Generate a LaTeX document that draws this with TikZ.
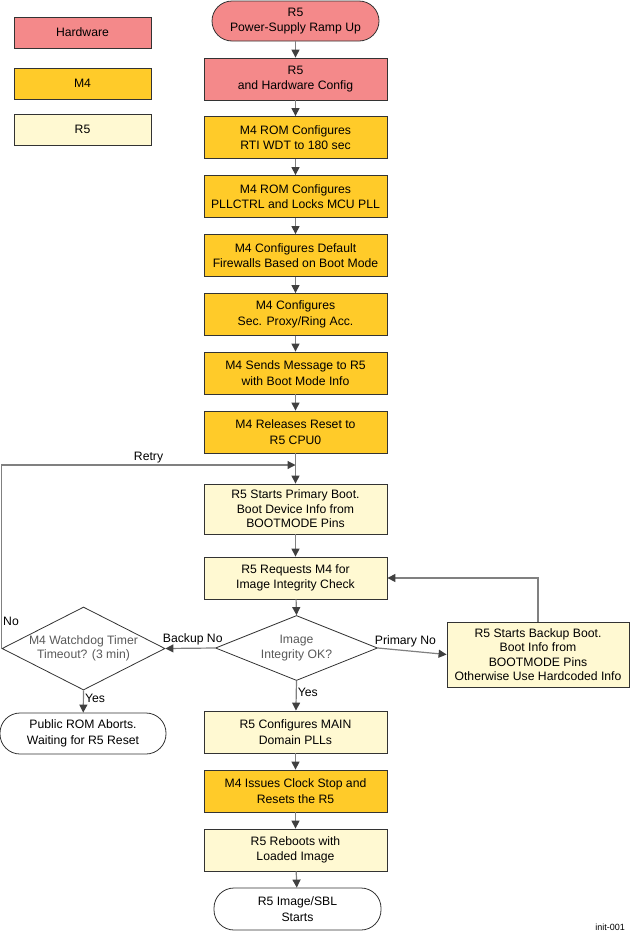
\documentclass[tikz,border=0pt]{standalone}
\usepackage{fontspec}
\setmainfont{Liberation Sans}
\usetikzlibrary{shapes.geometric,arrows.meta}
\definecolor{hw}{HTML}{F4898A}
\definecolor{mf}{HTML}{FFCB29}
\definecolor{rf}{HTML}{FFF9D2}
\definecolor{ln}{HTML}{808080}
\definecolor{tipc}{HTML}{404040}
\definecolor{bd}{HTML}{333333}
\begin{document}
\begin{tikzpicture}[x=1pt,y=-1pt,font=\fontsize{12.2}{15.5}\selectfont,
  box/.style={draw=bd,line width=0.8pt,minimum width=183pt,minimum height=42pt,align=center,inner sep=1pt},
  hwb/.style={box,fill=hw},
  m4b/.style={box,fill=mf},
  r5b/.style={box,fill=rf},
  legbox/.style={draw=bd,line width=0.8pt,minimum width=137pt,minimum height=31pt,inner sep=1pt},
  term/.style={draw=bd,line width=0.8pt,rounded corners=20pt,minimum width=167pt,minimum height=41pt,align=center,inner sep=1pt},
  dia/.style={draw=bd,line width=0.8pt,diamond,inner sep=0pt,align=center,text=black!65},
  arr/.style={draw=ln,line width=1.2pt,-{Triangle[length=8pt,width=8pt,color=tipc]}},
  lbl/.style={inner sep=1pt}
]
\useasboundingbox (0,0) rectangle (630,932);

% legend
\node[legbox,fill=hw] (lhw) at (82.5,32.5) {Hardware};
\node[legbox,fill=mf] (lm4) at (82.5,83.5) {M4};
\node[legbox,fill=rf] (lr5) at (82.5,129.5) {R5};

% main column
\node[term,fill=hw,minimum height=40pt] (t1) at (295.5,21) {R5\\Power-Supply Ramp Up};
\node[hwb] (b2) at (295.5,79) {R5\\and Hardware Config};
\node[m4b] (b3) at (295.5,137.5) {M4 ROM Configures\\RTI WDT to 180 sec};
\node[m4b] (b4) at (295.5,196.5) {M4 ROM Configures\\PLLCTRL and Locks MCU PLL};
\node[m4b] (b5) at (295.5,255.5) {M4 Configures Default\\Firewalls Based on Boot Mode};
\node[m4b] (b6) at (295.5,314.5) {M4 Configures\\Sec. Proxy/Ring Acc.};
\node[m4b] (b7) at (295.5,373) {M4 Sends Message to R5\\with Boot Mode Info};
\node[m4b] (b8) at (295.5,432) {M4 Releases Reset to\\R5 CPU0};
\coordinate (merge) at (295.5,465);
\node[r5b,minimum height=50pt,font=\fontsize{12.2}{14.5}\selectfont] (b9) at (295.5,509) {R5 Starts Primary Boot.\\Boot Device Info from\\BOOTMODE Pins};
\node[r5b] (b10) at (295.5,578) {R5 Requests M4 for\\Image Integrity Check};
\node[dia,aspect=2.6,minimum width=162pt,minimum height=65pt] (d1) at (296.5,648) {Image\\Integrity OK?};
\node[dia,aspect=2,minimum width=163pt,minimum height=83pt,font=\fontsize{12.2}{14.5}\selectfont] (d2) at (83.5,648.5) {M4 Watchdog Timer\\Timeout? (3 min)};
\node[r5b,minimum width=182pt,minimum height=65pt,font=\fontsize{12.2}{14.5}\selectfont] (bk) at (538,654.5) {R5 Starts Backup Boot.\\Boot Info from\\BOOTMODE Pins\\Otherwise Use Hardcoded Info};
\node[term,minimum width=166pt] (pr) at (83,733.5) {Public ROM Aborts.\\Waiting for R5 Reset};
\node[r5b] (b11) at (295.5,732) {R5 Configures MAIN\\Domain PLLs};
\node[m4b] (b12) at (295.5,791) {M4 Issues Clock Stop and\\Resets the R5};
\node[r5b] (b13) at (295.5,850) {R5 Reboots with\\Loaded Image};
\node[term,minimum height=42pt] (t2) at (297.5,909) {R5 Image/SBL\\Starts};

\node[lbl,font=\fontsize{9}{10}\selectfont,anchor=east] (tag) at (626,927) {init-001};

% connectors
\draw[arr] (t1) -- (b2);
\draw[arr] (b2) -- (b3);
\draw[arr] (b3) -- (b4);
\draw[arr] (b4) -- (b5);
\draw[arr] (b5) -- (b6);
\draw[arr] (b6) -- (b7);
\draw[arr] (b7) -- (b8);
\draw[arr] (b8) -- (b9);
\draw[arr] (b9) -- (b10);
\draw[arr] (b10) -- (d1.north);
\draw[arr] (d1.west) -- node[lbl,above=2pt,pos=0.45,text=black] {Backup No} (d2.east);
\draw[arr] (d1.east) -- node[lbl,above=2pt,pos=0.4,text=black] {Primary No} (bk.west);
\draw[arr] (bk.north) -- (bk.north |- b10.east) -- (b10.east);
\draw[arr] (d1.south) -- node[lbl,right,pos=0.4] {Yes} (b11);
\draw[arr] (d2.south) -- node[lbl,right,pos=0.35] {Yes} (pr);
\draw[arr] (d2.west) -- node[lbl,right,pos=0.15] {No} (d2.west |- merge) -- node[lbl,above,pos=0.5] {Retry} (merge);
\draw[arr] (b11) -- (b12);
\draw[arr] (b12) -- (b13);
\draw[arr] (b13) -- (t2);
\end{tikzpicture}
\end{document}
